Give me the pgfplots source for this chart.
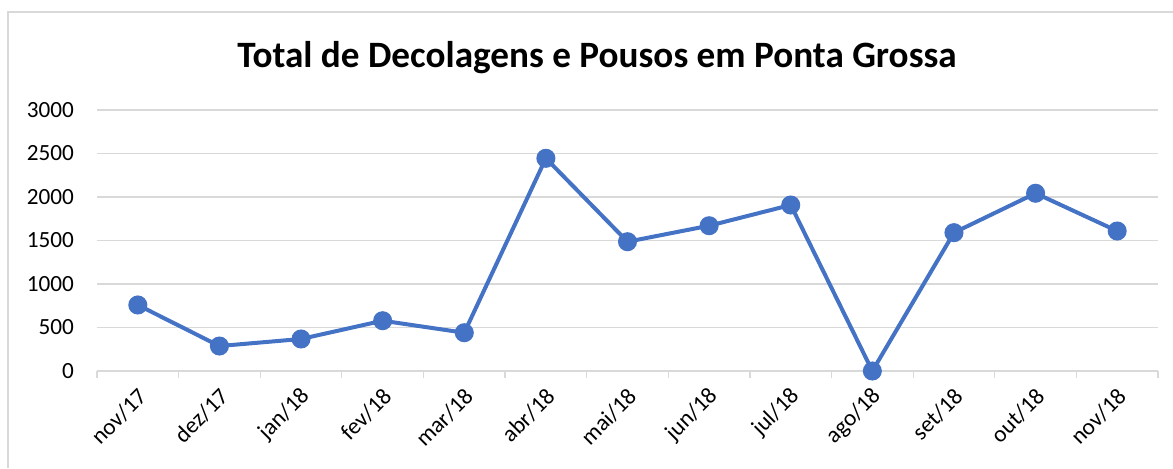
\documentclass[border=0pt]{standalone}
\usepackage{fontspec}
\setmainfont{Carlito}
\usepackage{pgfplots}
\pgfplotsset{compat=1.18}
\definecolor{lineblue}{HTML}{4472C4}
\definecolor{gridgray}{HTML}{D9D9D9}

\begin{document}
\begin{tikzpicture}
\path[use as bounding box] (0,0) rectangle (586.5pt,234pt);
\draw[gridgray, line width=0.6pt] (4pt,0) -- (4pt,228pt) -- (586.5pt,228pt);
\node[anchor=base, font=\fontsize{18.6}{22}\selectfont\bfseries] at (298.5pt,200.4pt)
  {Total de Decolagens e Pousos em Ponta Grossa};
\begin{axis}[
    at={(48.5pt,48.5pt)}, anchor=south west,
    scale only axis, width=530.5pt, height=130.5pt,
    xmin=-0.5, xmax=12.5, ymin=0, ymax=3000,
    axis x line*=bottom, axis y line*=left,
    y axis line style={draw=none},
    x axis line style={draw=gridgray, line width=0.6pt},
    ytick={0,500,...,3000},
    xtick={0,...,12},
    xticklabels={nov/17,dez/17,jan/18,fev/18,mar/18,abr/18,mai/18,jun/18,jul/18,ago/18,set/18,out/18,nov/18},
    minor xtick={-0.5,0.5,...,12.5},
    major tick length=0pt, minor tick length=3.5pt,
    tick align=outside,
    minor tick style={draw=gridgray, line width=0.6pt},
    ymajorgrids, grid style={draw=gridgray, line width=0.6pt},
    tick label style={font=\fontsize{11.6}{13}\selectfont},
    yticklabel style={anchor=east, xshift=-8pt},
    xticklabel style={rotate=45, anchor=east, xshift=-2.5pt, yshift=-9.5pt},
    /pgf/number format/assume math mode=true,
    /pgf/number format/1000 sep={},
    clip=false,
]
\addplot[lineblue, line width=2pt, mark=*, mark size=3.75pt, mark options={fill=lineblue, draw=lineblue}]
  coordinates {(0,759)(1,287)(2,368)(3,578)(4,440)(5,2445)(6,1486)(7,1670)(8,1908)(9,0)(10,1590)(11,2043)(12,1609)};
\end{axis}
\end{tikzpicture}
\end{document}
